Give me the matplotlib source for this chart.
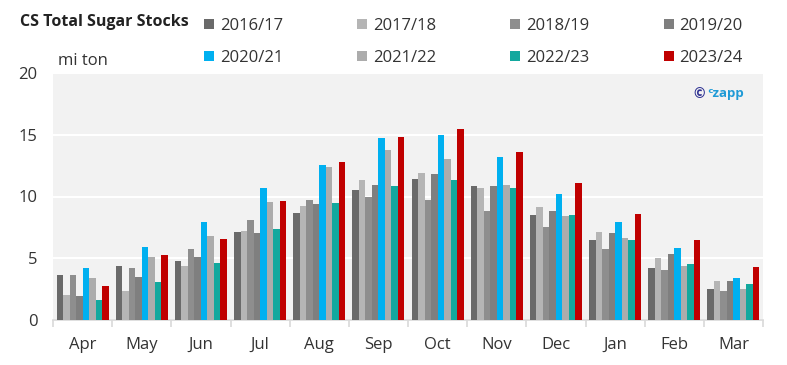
import matplotlib
matplotlib.use('Agg')
import matplotlib.pyplot as plt
import numpy as np
from matplotlib.patches import Patch

plt.rcParams['font.family'] = ['Open Sans', 'DejaVu Sans']

months = ['Apr', 'May', 'Jun', 'Jul', 'Aug', 'Sep', 'Oct', 'Nov', 'Dec', 'Jan', 'Feb', 'Mar']
seasons = ['2016/17', '2017/18', '2018/19', '2019/20', '2020/21', '2021/22', '2022/23', '2023/24']

s2016 = [3.65, 4.38, 4.78, 7.16, 8.64, 10.53, 11.40, 10.86, 8.51, 6.51, 4.21, 2.48]
s2017 = [2.03, 2.35, 4.38, 7.21, 9.21, 11.32, 11.91, 10.72, 9.13, 7.10, 5.05, 3.13]
s2018 = [3.65, 4.24, 5.75, 8.13, 9.72, 10.00, 9.72, 8.80, 7.51, 5.73, 4.08, 2.38]
s2019 = [1.97, 3.46, 5.10, 7.02, 9.43, 10.94, 11.83, 10.86, 8.80, 7.05, 5.32, 3.13]
s2020 = [4.19, 5.89, 7.91, 10.67, 12.59, 14.72, 14.96, 13.18, 10.24, 7.94, 5.83, 3.38]
s2021 = [3.43, 5.10, 6.80, 9.54, 12.42, 13.78, 13.02, 10.91, 8.43, 6.65, 4.40, 2.48]
s2022 = [1.62, 3.05, 4.65, 7.35, 9.51, 10.86, 11.37, 10.72, 8.51, 6.46, 4.54, 2.89]
s2023 = [2.73, 5.24, 6.54, 9.64, 12.83, 14.83, 15.45, 13.59, 11.10, 8.62, 6.48, 4.32]

series = [s2016, s2017, s2018, s2019, s2020, s2021, s2022, s2023]
colors = ['#6a6a6a', '#b5b5b5', '#8e8e8e', '#7f7f7f', '#00b0f0', '#acacac', '#13a89e', '#c00000']

fig = plt.figure(figsize=(7.87, 3.65), dpi=100)
ax = fig.add_axes([53/787, 45/365, 710/787, 247/365])
ax.set_facecolor('#f2f2f2')

x = np.arange(len(months))
w = 0.11
for i, (vals, c) in enumerate(zip(series, colors)):
    ax.bar(x + (i - 3.5) * w, vals, width=w, color=c, linewidth=0, zorder=3)

ax.set_xlim(-0.5, len(months) - 0.5)
ax.set_ylim(0, 20)
ax.set_yticks([0, 5, 10, 15, 20])
ax.yaxis.grid(True, color='white', linewidth=1.5, zorder=1)
ax.set_axisbelow(True)

for sp in ['top', 'right', 'left']:
    ax.spines[sp].set_visible(False)
ax.spines['bottom'].set_color('#d9d9d9')
ax.spines['bottom'].set_linewidth(1.2)

ax.set_xticks(x)
ax.set_xticklabels(months)
ax.set_xticks(np.arange(-0.5, len(months)), minor=True)
ax.tick_params(axis='x', which='major', length=0, pad=12, labelsize=12, colors='#333333')
ax.tick_params(axis='x', which='minor', length=5, color='#d9d9d9', width=1.2)
ax.tick_params(axis='y', length=0, pad=11, labelsize=12, labelcolor='#333333')

fig.text(20/787, 1 - 22/365, 'CS Total Sugar Stocks', fontsize=11.5, fontweight='bold',
         color='#222222', va='center', ha='left')
fig.text(58/787, 1 - 61/365, 'mi ton', fontsize=12, color='#333333', va='center', ha='left')
ax.text(0.918, 0.915, '©', transform=ax.transAxes, ha='right', va='center',
        fontsize=10, fontweight='bold', color='#2e3192')
ax.text(0.921, 0.915, 'ᶜzapp', transform=ax.transAxes, ha='left', va='center',
        fontsize=9.5, fontweight='bold', color='#1e9ad6')

handles = [Patch(facecolor=c, edgecolor='none') for c in colors]
order = [0, 4, 1, 5, 2, 6, 3, 7]
fig.legend([handles[k] for k in order], [seasons[k] for k in order], ncol=4,
           loc='upper left', bbox_to_anchor=(204/787, 1 - 18/365), frameon=False,
           borderaxespad=0, borderpad=0,
           fontsize=12, handlelength=0.6, handleheight=0.6, handletextpad=0.35,
           columnspacing=4.45, labelspacing=0.95, labelcolor='#333333')

fig.savefig('out.png', dpi=100)
